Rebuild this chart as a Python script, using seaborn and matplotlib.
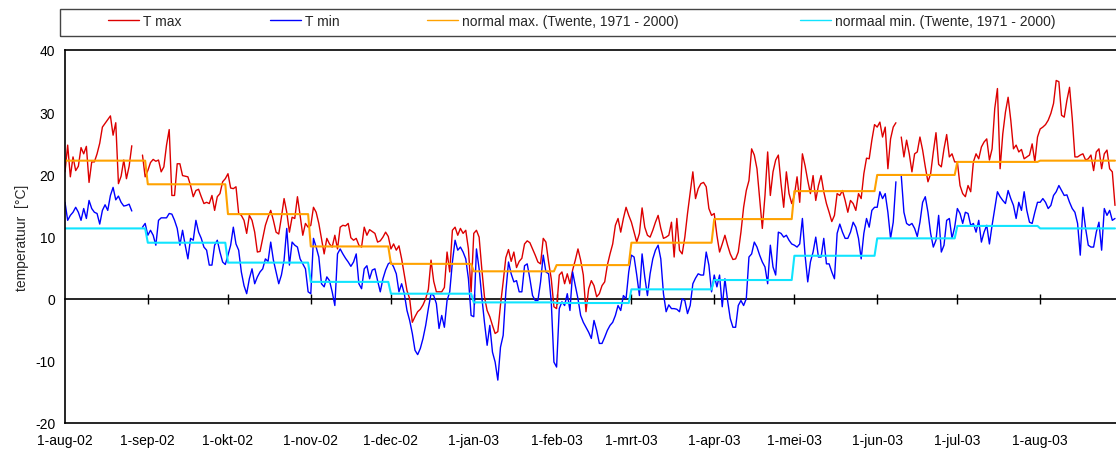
import numpy as np
import pandas as pd
import matplotlib
matplotlib.use("Agg")
import matplotlib.pyplot as plt
from matplotlib.lines import Line2D
from matplotlib.patches import Rectangle
import seaborn as sns

nan = np.nan

# dagelijkse maximumtemperatuur (°C), per maand
tmax_aug02 = [20.4, 24.7, 19.6, 22.8, 20.6, 21.3, 24.3, 23.3, 24.5, 18.7, 22.0, 22.0, 23.3, 25.0, 27.6, 28.2,
              28.8, 29.4, 26.3, 28.3, 18.5, 19.7, 22.3, 19.3, 21.3, 24.6, nan, nan, nan, 23.1, 19.6]
tmax_sep02 = [20.6, 21.9, 22.4, 22.1, 22.3, 20.4, 21.2, 24.7, 27.2, 16.6, 16.6, 21.7, 21.7, 19.8, 19.7,
              19.6, 18.2, 16.4, 17.4, 17.6, 16.4, 15.3, 15.5, 15.3, 16.6, 14.2, 16.4, 16.9, 18.8, 19.3]
tmax_okt02 = [20.1, 17.8, 17.7, 18.0, 13.7, 13.4, 12.6, 10.5, 13.4, 12.6, 10.7, 7.5, 7.6, 9.7, 11.8, 13.1,
              14.2, 12.6, 10.7, 10.4, 13.1, 16.1, 13.9, 10.7, 13.1, 12.9, 16.4, 13.4, 10.2, 12.1, 11.5]
tmax_nov02 = [11.8, 14.7, 13.9, 12.1, 9.7, 7.2, 9.7, 8.8, 8.3, 10.2, 8.0, 11.5, 11.8, 11.7, 12.1,
              9.8, 9.4, 9.7, 8.6, 8.3, 11.5, 10.2, 11.1, 10.8, 10.5, 9.1, 9.3, 9.9, 10.7, 10.0]
tmax_dec02 = [8.0, 8.8, 7.8, 8.5, 6.4, 3.8, 1.3, 0.0, -3.8, -2.9, -2.1, -1.7, -1.0, 0.0, 1.5, 6.2,
              2.8, 1.1, 1.1, 1.1, 1.8, 7.5, 4.3, 11.0, 11.5, 10.2, 11.3, 10.5, 11.0, 8.0, 1.1]
tmax_jan03 = [10.5, 11.0, 9.9, 4.8, 0.3, -1.9, -2.9, -4.3, -5.6, -5.3, -1.0, 2.7, 6.6, 7.9, 6.0, 7.5,
              5.0, 6.0, 6.5, 8.8, 9.3, 9.0, 8.0, 7.0, 5.9, 5.6, 9.7, 9.1, 5.9, 3.2, -1.3]
tmax_feb03 = [-1.6, 3.8, 4.3, 2.4, 4.0, 2.4, 4.6, 6.2, 8.0, 6.2, 3.8, -2.1, 1.6, 2.9,
              2.1, 0.3, 0.8, 2.1, 2.7, 5.4, 7.2, 8.8, 11.8, 12.9, 10.7, 12.9, 14.7, 13.4]
tmax_mrt03 = [12.3, 10.7, 9.1, 10.5, 14.6, 11.5, 10.2, 9.9, 11.0, 12.3, 13.4, 11.3, 9.7, 9.9, 10.2, 12.3,
              6.7, 12.9, 7.8, 7.2, 9.9, 13.7, 17.0, 20.4, 16.1, 17.7, 18.5, 18.7, 18.0, 14.5, 13.4]
tmax_apr03 = [13.7, 10.2, 7.5, 8.8, 10.2, 8.6, 7.2, 6.3, 6.4, 7.5, 10.7, 14.7, 17.4, 19.0, 24.1,
              23.1, 20.9, 16.1, 11.3, 16.6, 23.6, 16.6, 20.4, 22.3, 23.1, 18.5, 14.7, 20.4, 16.9, 15.3]
tmax_mei03 = [16.6, 19.6, 15.5, 23.3, 21.4, 19.0, 16.9, 19.8, 15.8, 18.2, 19.8, 17.2, 15.3, 13.9, 12.4, 13.4,
              16.9, 16.6, 17.4, 15.8, 13.9, 15.8, 15.3, 14.2, 16.9, 16.1, 20.1, 22.6, 22.5, 25.5, 28.0]
tmax_jun03 = [27.6, 28.4, 26.0, 27.6, 20.9, 25.7, 27.6, 28.3, nan, 26.0, 22.8, 25.5, 23.3, 20.4, 23.3,
              23.6, 26.0, 23.9, 21.2, 18.8, 20.1, 23.6, 26.7, 21.6, 21.2, 24.1, 26.4, 22.8, 23.3, 22.0]
tmax_jul03 = [22.0, 18.2, 16.9, 16.4, 18.2, 17.2, 22.0, 23.3, 22.5, 24.4, 25.2, 25.7, 22.3, 24.1, 30.6, 33.8,
              20.9, 26.5, 30.0, 32.4, 28.7, 24.1, 24.7, 23.6, 24.0, 22.5, 22.8, 23.1, 24.9, 22.0, 26.0]
tmax_aug03 = [27.3, 27.6, 28.0, 28.7, 29.8, 31.4, 35.1, 34.9, 29.5, 29.2, 31.9, 34.0, 29.0, 22.8, 22.8,
              23.1, 23.3, 22.3, 22.5, 23.1, 20.6, 23.6, 24.1, 20.9, 23.3, 23.9, 20.9, 20.4, 15.0]

# dagelijkse minimumtemperatuur (°C), per maand
tmin_aug02 = [15.5, 12.6, 13.4, 13.9, 14.7, 13.9, 12.6, 14.5, 12.9, 15.8, 14.5, 13.9, 13.7, 12.0, 14.2, 15.1,
              14.2, 16.6, 17.9, 15.9, 16.5, 15.5, 14.9, 15.0, 15.2, 14.1, nan, nan, nan, 11.5, 12.1]
tmin_sep02 = [10.2, 11.0, 10.2, 8.6, 12.6, 13.0, 13.0, 13.0, 13.7, 13.6, 12.6, 11.3, 8.6, 11.0, 8.6,
              6.4, 9.7, 9.4, 12.6, 10.7, 9.7, 8.3, 7.8, 5.4, 5.4, 8.6, 9.4, 7.5, 5.9, 5.5]
tmin_okt02 = [7.0, 8.6, 11.5, 8.8, 7.8, 4.3, 2.1, 0.8, 3.2, 4.8, 2.4, 3.5, 4.3, 4.8, 6.4, 6.0,
              9.1, 6.2, 4.3, 2.4, 3.8, 6.2, 11.3, 5.4, 9.1, 8.6, 8.3, 6.4, 5.6, 4.8, 1.1]
tmin_nov02 = [0.8, 9.7, 8.3, 6.7, 2.4, 1.9, 3.5, 2.9, 1.1, -1.1, 7.2, 8.0, 7.2, 6.5, 5.9,
              5.2, 5.9, 7.2, 2.4, 1.6, 4.8, 5.3, 3.2, 4.6, 4.8, 2.9, 1.1, 3.2, 4.6, 5.6]
tmin_dec02 = [5.9, 5.1, 4.0, 1.1, 2.4, 0.8, -1.9, -3.5, -5.6, -8.3, -9.0, -8.0, -6.4, -4.3, -1.6, 0.8,
              0.5, -0.8, -4.8, -2.7, -4.6, -0.3, 1.1, 5.9, 9.4, 7.8, 8.3, 7.5, 6.4, 3.2, -2.7]
tmin_jan03 = [-2.9, 8.0, 4.8, 0.3, -3.8, -7.5, -4.3, -8.6, -10.2, -13.1, -7.8, -5.9, 1.1, 5.9, 4.0, 2.7,
              2.9, 1.1, 1.1, 5.3, 5.6, 3.2, 0.5, -0.3, -0.3, 2.7, 7.0, 4.3, 4.0, -0.5, -10.2]
tmin_feb03 = [-11.0, -1.6, -0.5, -1.1, 0.8, -1.9, 4.3, 2.1, 0.0, -2.7, -3.8, -4.6, -5.4, -6.4,
              -3.5, -5.1, -7.2, -7.2, -6.2, -5.1, -4.3, -3.8, -2.7, -1.1, -1.9, 0.5, 0.0, 4.3]
tmin_mrt03 = [7.0, 6.7, 3.8, 0.5, 7.2, 3.5, 0.5, 4.0, 6.4, 7.8, 8.6, 6.4, 0.8, -2.1, -1.0, -1.6,
              -1.6, -1.7, -2.1, 0.0, -0.3, -2.4, -1.1, 2.4, 3.3, 4.0, 3.8, 3.8, 7.5, 5.4, 1.1]
tmin_apr03 = [3.8, 1.9, 3.8, -1.3, 3.2, -0.3, -3.2, -4.6, -4.6, -1.1, -0.3, -1.1, 0.0, 6.7, 7.2,
              9.1, 8.3, 7.0, 5.9, 5.1, 2.4, 8.6, 5.1, 3.8, 10.7, 10.5, 9.9, 10.2, 9.4, 8.8]
tmin_mei03 = [8.6, 8.3, 8.8, 12.9, 7.0, 2.7, 5.9, 7.5, 9.9, 6.7, 6.7, 9.7, 5.6, 5.6, 4.3, 3.2,
              10.5, 12.0, 10.7, 9.7, 9.7, 10.7, 12.3, 11.5, 9.7, 6.4, 10.5, 12.9, 11.5, 14.2, 14.7]
tmin_jun03 = [14.7, 17.2, 16.1, 16.9, 13.9, 9.7, 12.3, 18.8, nan, 19.8, 13.9, 12.1, 11.8, 12.1, 11.3,
              10.0, 12.3, 15.5, 16.4, 13.9, 10.5, 8.3, 9.4, 13.4, 7.5, 8.6, 12.6, 12.9, 9.7, 11.5]
tmin_jul03 = [14.5, 13.7, 12.1, 13.9, 13.7, 11.8, 12.1, 10.7, 12.6, 9.1, 10.7, 11.8, 8.8, 11.8, 14.5, 17.2,
              16.4, 15.8, 15.3, 17.4, 16.1, 15.0, 12.9, 15.5, 14.2, 17.2, 14.2, 12.3, 12.1, 13.9, 15.5]
tmin_aug03 = [15.5, 16.1, 15.5, 14.5, 15.0, 16.6, 17.2, 18.2, 17.4, 16.6, 16.7, 15.5, 14.5, 13.9, 12.1,
              7.0, 14.7, 11.3, 8.6, 8.3, 8.3, 10.7, 12.3, 7.8, 14.5, 13.4, 14.2, 12.6, 12.9]

# maandnormalen Twente 1971-2000, vanaf aug-02
normal_max = [22.2, 18.4, 13.6, 8.4, 5.6, 4.4, 5.4, 9.0, 12.8, 17.3, 19.9, 22.0, 22.2]
normal_min = [11.3, 9.0, 5.8, 2.7, 0.8, -0.6, -0.7, 1.5, 3.0, 6.9, 9.7, 11.7, 11.3]
month_labels = ["1-aug-02", "1-sep-02", "1-okt-02", "1-nov-02", "1-dec-02", "1-jan-03", "1-feb-03",
                "1-mrt-03", "1-apr-03", "1-mei-03", "1-jun-03", "1-jul-03", "1-aug-03"]

tmax = (tmax_aug02 + tmax_sep02 + tmax_okt02 + tmax_nov02 + tmax_dec02 + tmax_jan03 + tmax_feb03
        + tmax_mrt03 + tmax_apr03 + tmax_mei03 + tmax_jun03 + tmax_jul03 + tmax_aug03)
tmin = (tmin_aug02 + tmin_sep02 + tmin_okt02 + tmin_nov02 + tmin_dec02 + tmin_jan03 + tmin_feb03
        + tmin_mrt03 + tmin_apr03 + tmin_mei03 + tmin_jun03 + tmin_jul03 + tmin_aug03)

dates = pd.date_range("2002-08-01", periods=len(tmax), freq="D")
month_starts = pd.date_range("2002-08-01", periods=len(normal_max), freq="MS")
month_day = (month_starts - dates[0]).days

normals = pd.DataFrame({"nmax": normal_max, "nmin": normal_min}, index=month_starts)
normals = normals.reindex(dates, method="ffill")

df = pd.DataFrame({"day": (dates - dates[0]).days, "tmax": tmax, "tmin": tmin,
                   "nmax": normals["nmax"].values, "nmin": normals["nmin"].values})
# aparte stukken zodat ontbrekende dagen een gat in de lijn geven
df["seg_max"] = df["tmax"].isna().cumsum()
df["seg_min"] = df["tmin"].isna().cumsum()

c_max, c_min, c_nmax, c_nmin = "#dd0000", "#0000ff", "#ffa200", "#10e4ff"

sns.set_style("white")
plt.rcParams["font.family"] = ["Liberation Sans", "DejaVu Sans"]
plt.rcParams["axes.edgecolor"] = "black"
plt.rcParams["xtick.color"] = "black"
plt.rcParams["ytick.color"] = "black"
plt.rcParams["axes.unicode_minus"] = False

W, H = 1116, 452
fig = plt.figure(figsize=(W / 100, H / 100), dpi=100)
ax = fig.add_axes([65 / W, 28 / H, 1058 / W, 373 / H])

sns.lineplot(data=df, x="day", y="tmax", units="seg_max", estimator=None, color=c_max, lw=1.0, ax=ax, legend=False)
sns.lineplot(data=df, x="day", y="tmin", units="seg_min", estimator=None, color=c_min, lw=1.0, ax=ax, legend=False)
sns.lineplot(data=df, x="day", y="nmax", estimator=None, color=c_nmax, lw=1.5, ax=ax, legend=False)
sns.lineplot(data=df, x="day", y="nmin", estimator=None, color=c_nmin, lw=1.5, ax=ax, legend=False)

ax.set_xlim(0, 396)
ax.set_ylim(-20, 40)
ax.set_yticks(np.arange(-20, 41, 10))
ax.set_yticks(np.arange(-20, 41, 2), minor=True)
ax.tick_params(axis="y", which="major", direction="out", length=4, width=1, pad=3, labelsize=10)
ax.tick_params(axis="y", which="minor", direction="in", length=2.5, width=1)
ax.set_xticks(month_day, month_labels)
ax.tick_params(axis="x", length=0, pad=7, labelsize=10)
ax.set_xlabel("")
ax.set_ylabel("temperatuur  [°C]", fontsize=10, labelpad=4)
for side in ["left", "bottom", "top"]:
    ax.spines[side].set_linewidth(1.2)
ax.spines["right"].set_visible(False)

# x-as door nul met streepjes per maand
zero_axis = ax.secondary_xaxis(1 / 3)
zero_axis.set_ticks(month_day[1:])
zero_axis.tick_params(direction="inout", length=7, width=1, labelbottom=False, labeltop=False)
zero_axis.spines["bottom"].set_linewidth(1.2)

# legenda bovenaan in een kader
fig.add_artist(Rectangle((60 / W, 1 - 36.5 / H), 1.0, 27 / H, transform=fig.transFigure,
                         fill=False, edgecolor="#444444", lw=1.0))
entries = [(c_max, "T max", 108), (c_min, "T min", 270),
           (c_nmax, "normal max. (Twente, 1971 - 2000)", 427),
           (c_nmin, "normaal min. (Twente, 1971 - 2000)", 800)]
for color, text, xpos in entries:
    fig.legend([Line2D([], [], color=color, lw=1.0)], [text], loc="center left",
               bbox_to_anchor=(xpos / W, 1 - 22 / H), frameon=False, fontsize=10,
               handlelength=2.2, handletextpad=0.3, borderpad=0, borderaxespad=0)

fig.savefig("out.png", dpi=100)
